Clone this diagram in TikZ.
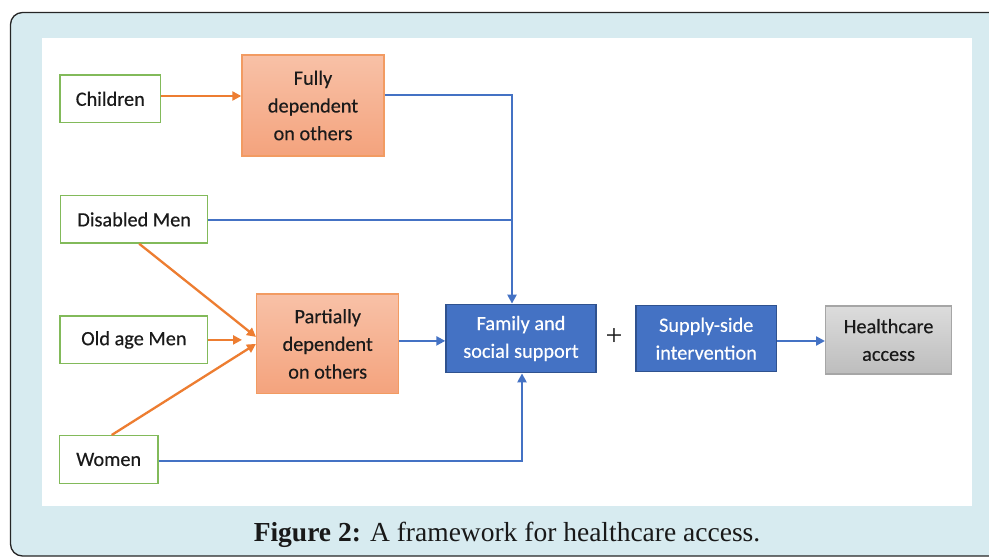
\documentclass[tikz,border=0pt]{standalone}
\usepackage{fontspec}
\setmainfont{Carlito}[FakeBold=0.35]
\newfontfamily\boxfont{Carlito}[FakeBold=0.35]
\newfontfamily\capfont{Liberation Serif}
\usetikzlibrary{arrows.meta,calc}

\definecolor{panelblue}{HTML}{D7EBF0}
\definecolor{framegreen}{HTML}{82BA5A}
\definecolor{linkorange}{HTML}{ED7D31}
\definecolor{linkblue}{HTML}{4472C4}
\definecolor{boxblue}{HTML}{4472C4}
\definecolor{boxblueedge}{HTML}{2F528F}
\definecolor{peachtop}{HTML}{F8C1A7}
\definecolor{peachbot}{HTML}{F4A37D}
\definecolor{peachedge}{HTML}{F29B62}
\definecolor{greytop}{HTML}{DCDCDC}
\definecolor{greybot}{HTML}{BDBDBD}
\definecolor{greyedge}{HTML}{A6A6A6}
\definecolor{inktext}{HTML}{1A1A1A}

\tikzset{
  boxtext/.style={font=\boxfont\fontsize{20.3}{27.7}\selectfont, align=center, inner sep=0pt, text=inktext},
  groupbox/.style={boxtext, draw=framegreen, line width=1.4pt, fill=white},
  dependbox/.style={boxtext, draw=peachedge, line width=1.4pt, top color=peachtop, bottom color=peachbot},
  supportbox/.style={boxtext, draw=boxblueedge, line width=1.4pt, fill=boxblue, text=white},
  outcomebox/.style={boxtext, draw=greyedge, line width=1.2pt, top color=greytop, bottom color=greybot},
  orangelink/.style={draw=linkorange, line width=2.3pt, -{Triangle[length=9pt,width=9pt]}},
  bluelink/.style={draw=linkblue, line width=2.3pt},
  bluearrow/.style={bluelink, -{Triangle[length=9pt,width=9pt]}},
}

\begin{document}
\begin{tikzpicture}[x=1pt, y=-1pt]
  \useasboundingbox (0,0) rectangle (989,557);

  % panel and drawing area
  \begin{scope}
    \clip (0,0) rectangle (989,557);
    \draw[fill=panelblue, draw=black!85, line width=1.3pt, rounded corners=12pt]
      (10.5,12.5) rectangle (1010,556);
  \end{scope}
  \fill[white] (42,38) rectangle (972,506);

  % population groups
  \node[groupbox, minimum width=100.7pt, minimum height=47.7pt] (children) at (110.3,98.8) {Children};
  \node[groupbox, minimum width=147pt, minimum height=47.3pt] (disabled) at (134.2,219.4) {Disabled Men};
  \node[groupbox, minimum width=147.7pt, minimum height=47.7pt] (oldage) at (133.9,339.9) {Old age Men};
  \node[groupbox, minimum width=98.7pt, minimum height=47.6pt] (women) at (108.7,459.5) {Women};

  % dependency levels
  \node[dependbox, minimum width=142pt, minimum height=101pt] (fully) at (313,105.5) {Fully\\dependent\\on others};
  \node[dependbox, minimum width=142pt, minimum height=99.7pt] (partial) at (327.7,343.9) {Partially\\dependent\\on others};

  % support and outcome
  \node[supportbox, minimum width=150pt, minimum height=68.4pt] (family) at (521,338.5) {Family and\\social support};
  \node[supportbox, minimum width=140.5pt, minimum height=66pt] (supply) at (706.2,338.7) {Supply-side\\intervention};
  \node[outcomebox, minimum width=126pt, minimum height=68pt] (health) at (888.6,340) {Healthcare\\access};
  \node[font=\capfont\fontsize{30}{30}\selectfont, text=inktext, inner sep=0pt] (plus) at (614,337) {+};

  % routing points
  \coordinate (jtop) at (512,95);
  \coordinate (jbot) at (522,461);

  % orange links into dependency levels
  \draw[orangelink] (children.east |- 0,96) -- (fully.west |- 0,96);
  \draw[orangelink] ([xshift=5pt]disabled.south) -- ([yshift=7pt]partial.west);
  \draw[orangelink] (oldage.east) -- ([xshift=-14pt]oldage.east -| partial.west);
  \draw[orangelink] ([xshift=3pt]women.north) -- (partial.west);

  % blue links into family and social support
  \draw[bluearrow] (fully.east |- jtop) -- (jtop) -- (jtop |- family.north);
  \draw[bluelink] (disabled.east |- 0,220) -- (jtop |- 0,220);
  \draw[bluearrow] ([yshift=3pt]partial.east) -- ([yshift=3pt]partial.east -| family.west);
  \draw[bluearrow] (women.east |- jbot) -- (jbot) -- (jbot |- family.south);
  \draw[bluearrow] (supply.east |- 0,341) -- (health.west |- 0,341);

  % caption
  \node[font=\capfont\fontsize{27.5}{30}\selectfont, text=black!90, inner sep=0pt, anchor=base] (caption) at (507,541)
    {\textbf{Figure 2:} A framework for healthcare access.};
\end{tikzpicture}
\end{document}
